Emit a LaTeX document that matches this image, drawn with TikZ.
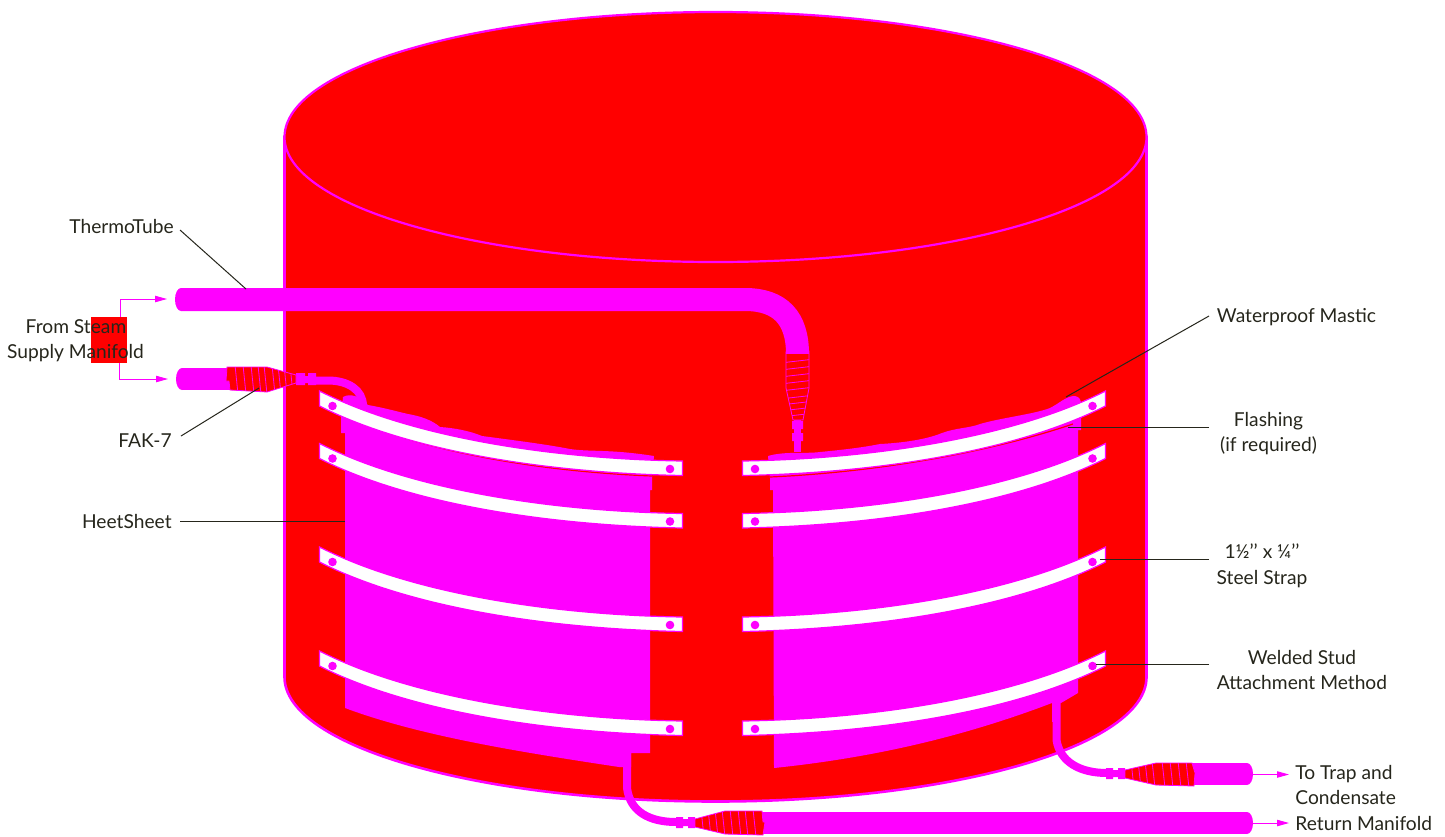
\documentclass[tikz,border=0pt]{standalone}
\usepackage{fontspec}
\setmainfont{Lato}
\usetikzlibrary{arrows.meta}
\definecolor{mag}{RGB}{255,0,255}
\definecolor{tankred}{RGB}{255,0,0}
\definecolor{ink}{RGB}{38,38,28}
\tikzset{
  x=0.5pt,y=-0.5pt,
  tube/.style={draw=mag,line cap=butt},
  strapbar/.style={fill=white,draw=mag,line width=0.6pt},
  studdot/.style={fill=mag,draw=none},
  fitting/.style={fill=tankred,draw=mag,line width=0.4pt},
  ridge/.style={draw=mag,line width=0.4pt},
  leader/.style={draw=ink,line width=0.5pt},
  flow/.style={draw=mag,line width=0.45pt,-{Triangle[length=6pt,width=3.2pt]}},
  lab/.style={text=ink,font=\fontsize{9.6}{12.5}\selectfont,inner sep=0pt,anchor=base}
}
\begin{document}
\begin{tikzpicture}
\useasboundingbox (0,0) rectangle (1445,836);
\fill[white] (0,0) rectangle (1445,836);
% tank
\filldraw[fill=tankred,draw=mag,line width=1.3pt] (284.5,137) -- (284.5,677)
  .. controls (284.5,746) and (477,801.5) .. (715.5,801.5)
  .. controls (954,801.5) and (1146.5,746) .. (1146.5,677) -- (1146.5,137) -- cycle;
\filldraw[fill=tankred,draw=mag,line width=1.1pt] (715.5,137) ellipse [x radius=431,y radius=125];
% left sheet
\fill[mag] (343,397) .. controls (350,393) and (360,396) .. (368,405)
  .. controls (385,408) and (395,411) .. (408,414)
  .. controls (420,416) and (432,420) .. (440,427)
  .. controls (455,428) and (470,431) .. (482,436)
  .. controls (520,441) and (550,445) .. (570,449)
  .. controls (590,452) and (610,449) .. (654,456)
  -- (652,476) -- (652,490) -- (650,490) -- (650,753) -- (631,753) -- (631,767) -- (619,767)
  .. controls (520,752) and (420,736) .. (345,708)
  -- (345,433) -- (341,433) -- (341,418) -- cycle;
\draw[tankred,line width=0.6pt] (362,423) .. controls (440,455) and (550,472) .. (652,476);
% right sheet
\fill[mag] (768,456) .. controls (785,451) and (805,454) .. (820,452)
  .. controls (840,450) and (860,448) .. (880,444)
  .. controls (900,443) and (925,440) .. (942,433)
  .. controls (955,428) and (970,428) .. (980,424)
  .. controls (1000,418) and (1035,414) .. (1050,408)
  .. controls (1060,403) and (1066,396) .. (1075,396)
  .. controls (1080,397) and (1081,400) .. (1081,405)
  -- (1081,430) -- (1078,430) -- (1078,693) -- (1061,703) -- (1052,703)
  .. controls (960,738) and (870,758) .. (774,768)
  -- (773,490) -- (770,490) -- (770,478) -- cycle;
\draw[tankred,line width=0.6pt] (770,477) .. controls (880,472) and (990,452) .. (1073,424);
% thermotube
\fill[mag] (181,299.5) ellipse [x radius=6,y radius=11.5];
\draw[tube,line width=11.5pt] (181,299.5) -- (745,299.5) .. controls (780,299.5) and (797.5,318) .. (797.5,354);
% top centre fitting
\draw[tube,line width=3.5pt] (797.5,420) -- (797.5,452);
\fill[mag] (792,421) rectangle (803,429) (792,433) rectangle (803,441);
\path[fitting,draw=none] (786,352) -- (809,351) -- (809,388) -- (803,420) -- (793,420) -- (786,388) -- cycle;
\begin{scope}
\clip (786,352) -- (809,351) -- (809,388) -- (803,420) -- (793,420) -- (786,388) -- cycle;
\foreach \v in {361,368,375,382,389,397,403,409,415}{\draw[ridge] (780,\v+2) -- (815,\v-2);}
\end{scope}
\draw[fitting,fill=none] (786,352) -- (809,351) -- (809,388) -- (803,420) -- (793,420) -- (786,388) -- cycle;
\fill[mag] (786,351) rectangle (809,354);
% FAK-7 upper-left
\fill[mag] (182,379) ellipse [x radius=6,y radius=11];
\fill[mag] (182,368) rectangle (232,390);
\draw[tube,line width=4pt] (316,380.5) -- (328,380.5) .. controls (348,380.5) and (363,390) .. (363,406);
\fill[mag] (296,373) rectangle (305,385) (305,376) rectangle (308,383) (308,373) rectangle (316,385);
\fill[tankred] (227,367) -- (267,367) -- (296,375) -- (296,383) -- (267,392) -- (230,390) -- (229,381) -- (226,381) -- cycle;
\begin{scope}
\clip (227,367) -- (267,367) -- (296,375) -- (296,383) -- (267,392) -- (230,390) -- (229,381) -- (226,381) -- cycle;
\foreach \v in {235,243,251,258,264,272,278,284,290}{\draw[ridge] (\v,365) -- (\v+3,394);}
\end{scope}
\draw[mag,line width=0.4pt] (227,367) -- (267,367) -- (296,375) -- (296,383) -- (267,392) -- (230,390) -- (229,381) -- (226,381) -- cycle;
% bottom long pipe
\draw[tube,line width=4pt] (627,752) -- (627,788) .. controls (630,812) and (650,822) .. (676,822);
\fill[mag] (676,817) rectangle (683,828) (683,819) rectangle (688,826) (688,817) rectangle (695,828);
\fill[mag] (762,812) rectangle (1247,834);
\fill[mag] (1247,823) ellipse [x radius=6,y radius=11];
\fill[tankred] (695,819) -- (725,811) -- (762,811) -- (763,822) -- (765,822) -- (763,835) -- (725,834) -- (695,827) -- cycle;
\begin{scope}
\clip (695,819) -- (725,811) -- (762,811) -- (763,822) -- (765,822) -- (763,835) -- (725,834) -- (695,827) -- cycle;
\foreach \v in {701,708,715,722,730,738,745,753}{\draw[ridge] (\v,809) -- (\v+3,837);}
\end{scope}
\draw[mag,line width=0.4pt] (695,819) -- (725,811) -- (762,811) -- (763,822) -- (765,822) -- (763,835) -- (725,834) -- (695,827) -- cycle;
% lower-right pipe
\draw[tube,line width=4pt] (1056.5,703) -- (1056.5,740) .. controls (1060,762) and (1080,773) .. (1107,773);
\fill[mag] (1052,703) rectangle (1057,722);
\fill[mag] (1106,768) rectangle (1113,779) (1113,770) rectangle (1118,777) (1118,768) rectangle (1125,779);
\fill[mag] (1192,763) rectangle (1247,785);
\fill[mag] (1247,774) ellipse [x radius=6,y radius=11];
\fill[tankred] (1125,770) -- (1156,763) -- (1192,763) -- (1195,773) -- (1194,786) -- (1156,785) -- (1125,778) -- cycle;
\begin{scope}
\clip (1125,770) -- (1156,763) -- (1192,763) -- (1195,773) -- (1194,786) -- (1156,785) -- (1125,778) -- cycle;
\foreach \v in {1131,1138,1145,1152,1162,1170,1178,1186}{\draw[ridge] (\v,761) -- (\v+3,788);}
\end{scope}
\draw[mag,line width=0.4pt] (1125,770) -- (1156,763) -- (1192,763) -- (1195,773) -- (1194,786) -- (1156,785) -- (1125,778) -- cycle;
% straps
\foreach \y in {391,443.5,547,651}{
  \draw[strapbar] (319.5,\y) .. controls (410,\y+46) and (550,\y+68) .. (682.5,\y+70)
    -- (682.5,\y+84.5) .. controls (550,\y+82) and (410,\y+61) .. (319.5,\y+15) -- cycle;
  \fill[studdot] (332.5,\y+15) circle [radius=4.3];
  \fill[studdot] (670,\y+78) circle [radius=4.3];
  \draw[strapbar] (1105.5,\y) .. controls (1015,\y+46) and (875,\y+68) .. (742.5,\y+70)
    -- (742.5,\y+84.5) .. controls (875,\y+82) and (1015,\y+61) .. (1105.5,\y+15) -- cycle;
  \fill[studdot] (1092.5,\y+15) circle [radius=4.3];
  \fill[studdot] (755,\y+78) circle [radius=4.3];
}
% left source box and arrows
\fill[tankred] (91,317) rectangle (127,363);
\coordinate (srcTop) at (120,317);
\coordinate (srcBot) at (119,363);
\coordinate (tubeTop) at (167,299);
\coordinate (tubeBot) at (168,379);
\draw[flow] (srcTop) |- (tubeTop);
\draw[flow] (srcBot) |- (tubeBot);
\coordinate (trapOut) at (1253,774.5);
\coordinate (trapHead) at (1289,774.5);
\coordinate (retOut) at (1253,823);
\coordinate (retHead) at (1289,823);
\draw[flow] (trapOut) -- (trapHead);
\draw[flow] (retOut) -- (retHead);
% labels
\node[lab,anchor=base east] (lThermo) at (174,233) {ThermoTube};
\node[lab] (lSteamA) at (76,333) {From Steam};
\node[lab] (lSteamB) at (75.5,358) {Supply Manifold};
\node[lab] (lFak) at (145,447) {FAK-7};
\node[lab,anchor=base east] (lHeet) at (172,528) {HeetSheet};
\node[lab] (lMastic) at (1296.5,322) {Waterproof Mastic};
\node[lab] (lFlashA) at (1268.5,426) {Flashing};
\node[lab] (lFlashB) at (1268.5,451) {(if required)};
\node[lab] (lStrapA) at (1262,558) {1½{'}{'} x ¼{'}{'}};
\node[lab] (lStrapB) at (1262,584) {Steel Strap};
\node[lab] (lStudA) at (1302,664) {Welded Stud};
\node[lab] (lStudB) at (1302,689.5) {Attachment Method};
\node[lab,anchor=base west] (lTrapA) at (1295,779) {To Trap and};
\node[lab,anchor=base west] (lTrapB) at (1295,804) {Condensate};
\node[lab,anchor=base west] (lTrapC) at (1295,830) {Return Manifold};
% leaders
\coordinate (pThermoA) at (180,230); \coordinate (pThermoB) at (246,289);
\coordinate (pFakA) at (181,436); \coordinate (pFakB) at (259,388);
\coordinate (pHeetA) at (180,521); \coordinate (pHeetB) at (345,521);
\coordinate (pMasA) at (1209,316); \coordinate (pMasB) at (1066,397);
\coordinate (pFlaA) at (1209,427); \coordinate (pFlaB) at (1068,427);
\coordinate (pStrA) at (1209,559.5); \coordinate (pStrB) at (1100,559.5);
\coordinate (pStuA) at (1209,664); \coordinate (pStuB) at (1096,664);
\draw[leader] (pThermoA) -- (pThermoB);
\draw[leader] (pFakA) -- (pFakB);
\draw[leader] (pHeetA) -- (pHeetB);
\draw[leader] (pMasA) -- (pMasB);
\draw[leader] (pFlaA) -- (pFlaB);
\draw[leader] (pStrA) -- (pStrB);
\draw[leader] (pStuA) -- (pStuB);
\end{tikzpicture}
\end{document}
